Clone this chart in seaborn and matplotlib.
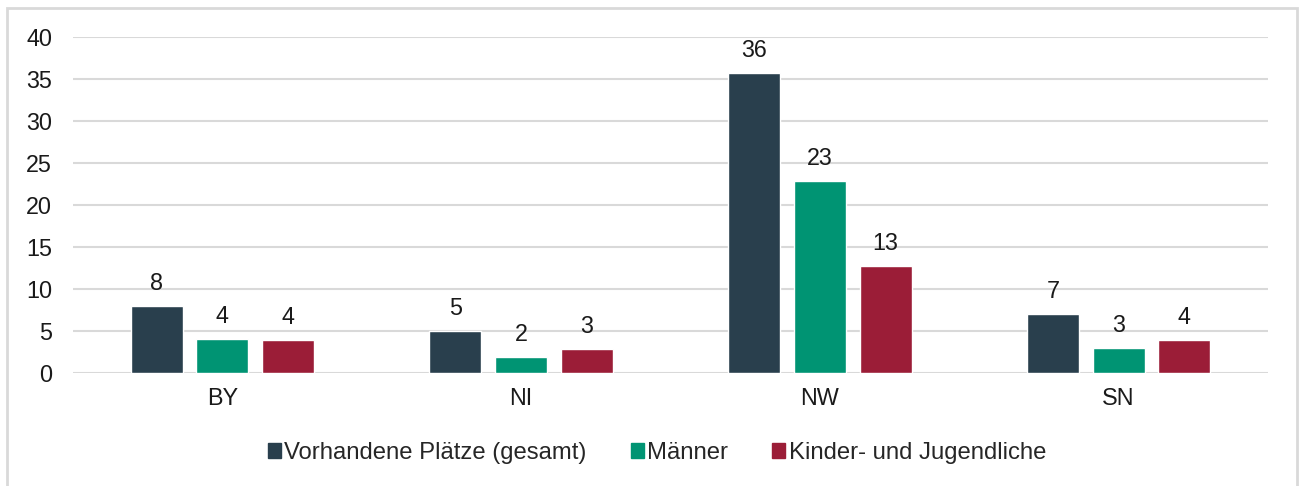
import matplotlib
matplotlib.use("Agg")
import matplotlib.pyplot as plt
import matplotlib.patches as mpatches
import seaborn as sns
import pandas as pd

# data
laender = ["BY", "NI", "NW", "SN"]
gesamt = [8.0, 5.0, 35.7, 7.0]
maenner = [4.0, 1.9, 22.9, 3.0]
kinder = [3.9, 2.9, 12.7, 3.9]
serien = ["Vorhandene Plätze (gesamt)", "Männer", "Kinder- und Jugendliche"]
farben = ["#293f4d", "#009473", "#9b1d37"]
y_ticks = [0, 5, 10, 15, 20, 25, 30, 35, 40]

rows = []
for name, vals in zip(serien, [gesamt, maenner, kinder]):
    for land, v in zip(laender, vals):
        rows.append({"land": land, "serie": name, "wert": v})
df = pd.DataFrame(rows)

sns.set_theme(style="white")
plt.rcParams["font.family"] = ["Liberation Sans", "DejaVu Sans"]

FS = 16.8
TXT = "#1a1a1a"

fig = plt.figure(figsize=(13.01, 4.86), dpi=100)
ax = fig.add_axes([0.0561, 0.2325, 0.9185, 0.6914])

sns.barplot(data=df, x="land", y="wert", hue="serie", hue_order=serien,
            palette=farben, width=0.66, gap=0.21, ax=ax, legend=False,
            saturation=1)

for cont in ax.containers:
    ax.bar_label(cont, labels=[f"{round(b.get_height()):d}" for b in cont],
                 padding=8, fontsize=FS, color=TXT, clip_on=False)

ax.set_ylim(0, 40)
ax.set_xlim(-0.5, 3.5)
ax.set_yticks(y_ticks)
ax.yaxis.grid(True, color="#d9d9d9", linewidth=1.5)
ax.set_axisbelow(True)
for s in ax.spines.values():
    s.set_visible(False)
ax.tick_params(axis="both", length=0, labelsize=FS, colors=TXT)
ax.tick_params(axis="y", pad=15)
ax.tick_params(axis="x", pad=10)
ax.set_xlabel("")
ax.set_ylabel("")

handles = [mpatches.Patch(color=c, label=s) for c, s in zip(farben, serien)]
fig.legend(handles=handles, loc="center", bbox_to_anchor=(0.505, 0.068),
           ncol=3, frameon=False, fontsize=17.2, handlelength=0.55,
           handleheight=0.55, handletextpad=0.13, columnspacing=1.85)

# light frame around the figure
fig.add_artist(mpatches.Rectangle((7 / 1301, -0.05), 1290 / 1301, 1.05 - 8 / 486,
                                  transform=fig.transFigure, fill=False,
                                  edgecolor="#d9d9d9", linewidth=2))

fig.savefig("out.png", dpi=100)
